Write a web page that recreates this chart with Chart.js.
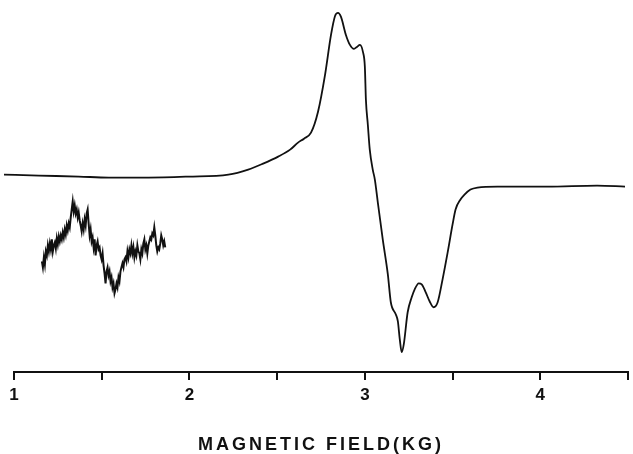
<!DOCTYPE html>
<html>
<head>
<meta charset="utf-8">
<script src="https://cdn.jsdelivr.net/npm/chart.js@4/dist/chart.umd.min.js"></script>
<style>
  html, body { margin: 0; padding: 0; background: #ffffff; }
  #wrap { width: 633px; height: 454px; }
</style>
</head>
<body>
<div id="wrap"><canvas id="c" width="633" height="454"></canvas></div>
<script>
// Main EPR derivative trace: magnetic field (kG) and signal (arbitrary units)
const mainField = [0.943, 1.142, 1.369, 1.540, 1.767, 1.994, 2.222, 2.335, 2.420, 2.506,
  2.574, 2.619, 2.653, 2.693, 2.733, 2.773, 2.807, 2.830, 2.847, 2.864,
  2.892, 2.915, 2.938, 2.955, 2.972, 2.989, 3.000, 3.006, 3.017, 3.028,
  3.045, 3.057, 3.074, 3.102, 3.131, 3.148, 3.176, 3.188, 3.199, 3.210,
  3.222, 3.244, 3.267, 3.284, 3.307, 3.324, 3.347, 3.369, 3.392, 3.415,
  3.443, 3.472, 3.500, 3.517, 3.545, 3.568, 3.602, 3.642, 3.756, 4.040,
  4.324, 4.483];
const mainSignal = [1, 0, -1, -2, -2, -1, 1, 6, 12, 19,
  26, 33, 37, 43, 64, 101, 141, 160, 163, 159,
  141, 131, 127, 129, 131, 124, 109, 76, 51, 26,
  6, -4, -27, -64, -99, -127, -139, -146, -164, -177,
  -169, -137, -122, -114, -108, -109, -117, -126, -132, -127,
  -104, -77, -49, -34, -24, -19, -14, -12, -11, -11,
  -10, -11];

// Inset: noisy weak-signal trace, swept linearly from insetStart in steps of insetStep (kG)
const insetStart = 1.159;
const insetStep = 0.00567;
const insetSignal = [-86, -92, -82, -89, -76, -80, -70, -76, -68, -74,
  -64, -76, -70, -67, -73, -63, -69, -61, -66, -60,
  -64, -57, -62, -54, -59, -50, -55, -48, -52, -42,
  -34, -26, -36, -30, -38, -34, -42, -37, -45, -50,
  -56, -48, -54, -44, -50, -38, -34, -48, -60, -54,
  -66, -62, -72, -64, -80, -70, -66, -74, -72, -80,
  -84, -78, -90, -98, -108, -96, -92, -100, -96, -106,
  -102, -112, -108, -118, -114, -108, -112, -102, -106, -96,
  -92, -88, -92, -84, -82, -86, -76, -82, -74, -78,
  -70, -78, -72, -82, -76, -80, -70, -76, -78, -84,
  -74, -78, -68, -64, -74, -70, -78, -70, -66, -62,
  -64, -58, -60, -52, -60, -70, -76, -72, -74, -68,
  -60, -64, -70, -66, -72];

// Axis
const xMin = 1, xMax = 4.5, xStep = 0.5;
const xLabelled = [1, 2, 3, 4];
const xTitle = 'MAGNETIC FIELD(KG)';

const mainPts = mainField.map((f, i) => ({ x: f, y: mainSignal[i] }));
const insetPts = insetSignal.map((s, i) => ({ x: insetStart + i * insetStep, y: s }));

const spacingPlugin = {
  id: 'spacing',
  beforeDraw(chart) { chart.ctx.letterSpacing = '3px'; },
  afterDraw(chart) { chart.ctx.letterSpacing = '0px'; }
};

new Chart(document.getElementById('c'), {
  type: 'scatter',
  data: {
    datasets: [
      {
        data: mainPts,
        showLine: true,
        borderColor: '#111111',
        borderWidth: 1.8,
        pointRadius: 0,
        cubicInterpolationMode: 'monotone',
        clip: false
      },
      {
        data: insetPts,
        showLine: true,
        borderColor: '#111111',
        borderWidth: 2,
        pointRadius: 0,
        tension: 0,
        clip: false
      }
    ]
  },
  options: {
    responsive: false,
    animation: false,
    layout: { padding: { left: 14, right: 2, top: 0, bottom: 0 } },
    plugins: { legend: { display: false }, tooltip: { enabled: false } },
    scales: {
      x: {
        type: 'linear',
        min: xMin,
        max: xMax,
        ticks: {
          stepSize: xStep,
          autoSkip: false,
          maxRotation: 0,
          padding: 5,
          labelOffset: 1.5,
          color: '#111111',
          font: { family: 'Liberation Sans', size: 17, weight: 'bold' },
          callback: (v) => xLabelled.includes(v) ? String(v) : ''
        },
        grid: {
          display: true,
          drawOnChartArea: false,
          drawTicks: true,
          tickLength: 8,
          color: '#111111',
          lineWidth: 2
        },
        border: { display: true, color: '#111111', width: 2 },
        title: {
          display: true,
          text: xTitle,
          color: '#111111',
          font: { family: 'Liberation Sans', size: 18, weight: 'bold', lineHeight: 1 },
          padding: { top: 25.5, bottom: 0 }
        }
      },
      y: {
        display: false,
        min: -197,
        max: 176
      }
    }
  },
  plugins: [spacingPlugin]
});
</script>
</body>
</html>
